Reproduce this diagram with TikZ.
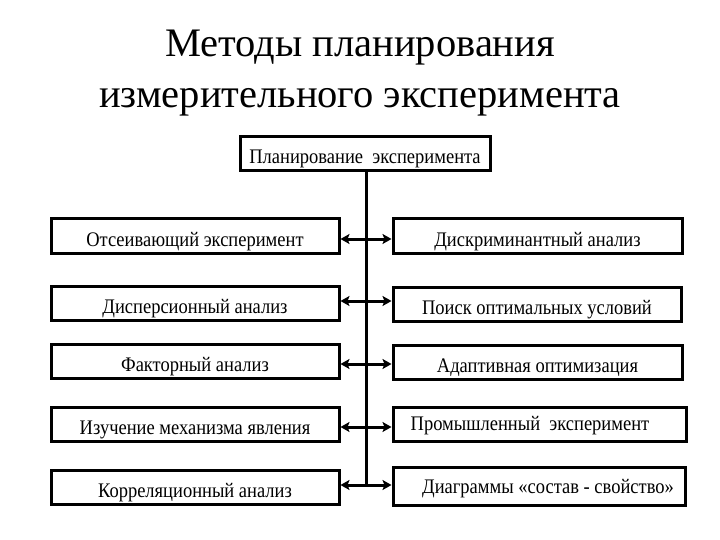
\documentclass[tikz,border=0pt]{standalone}
\usepackage{fontspec}
\setmainfont{Liberation Serif}
\usetikzlibrary{arrows.meta}
\newcommand{\bxt}[1]{\scalebox{1}[1.12]{#1}}
\begin{document}
\begin{tikzpicture}[x=1pt,y=-1pt,
  boxstyle/.style={draw=black, line width=3pt, inner sep=0pt, text height=21pt, text depth=0pt, font=\fontsize{18.5}{20}\selectfont, text=black},
  conn/.style={line width=3pt, {Stealth[length=9pt,width=10pt,inset=2pt]}-{Stealth[length=9pt,width=10pt,inset=2pt]}},
  trunk/.style={line width=3pt}]
\useasboundingbox (0,0) rectangle (720,540);
\node[font=\fontsize{40.5}{51}\selectfont, align=center, text=black] (title) at (360,73) {Методы планирования\\измерительного эксперимента};
\node[boxstyle, minimum width=250pt, minimum height=34pt, text height=20pt] (top) at (365,154) {\bxt{Планирование\ \ эксперимента}};
% left boxes
\node[boxstyle, minimum width=288pt, minimum height=34pt] (L1) at (195,236) {\bxt{Отсеивающий эксперимент}};
\node[boxstyle, minimum width=288pt, minimum height=34pt] (L2) at (195,303) {\bxt{Дисперсионный анализ}};
\node[boxstyle, minimum width=288pt, minimum height=34pt] (L3) at (195,361) {\bxt{Факторный анализ}};
\node[boxstyle, minimum width=288pt, minimum height=34pt] (L4) at (195,424) {\bxt{Изучение механизма явления}};
\node[boxstyle, minimum width=288pt, minimum height=34pt] (L5) at (195,487) {\bxt{Корреляционный анализ}};
% right boxes
\node[boxstyle, minimum width=289pt, minimum height=34pt] (R1) at (537.5,236) {\bxt{Дискриминантный анализ}};
\node[boxstyle, minimum width=288pt, minimum height=34pt] (R2) at (537,304) {\bxt{Поиск оптимальных условий}};
\node[boxstyle, minimum width=289pt, minimum height=34pt] (R3) at (537.5,362) {\bxt{Адаптивная оптимизация}};
\node[boxstyle, minimum width=293pt, minimum height=34pt, text height=12pt] (R4) at (539.5,424) {\hspace*{-19pt}\bxt{Промышленный\ \ эксперимент}};
\node[boxstyle, minimum width=292pt, minimum height=38pt, text height=14pt] (R5) at (539,486) {\hspace*{18pt}\bxt{Диаграммы «состав - свойство»}};
\coordinate (vend) at (366,485);
\draw[trunk] (top.south -| vend) -- (vend);
\draw[conn] ([yshift=-3pt]L1.east) -- ([yshift=-3pt]L1.east -| R1.west);
\draw[conn] ([yshift=2pt]L2.east) -- ([yshift=2pt]L2.east -| R2.west);
\draw[conn] ([yshift=-3pt]L3.east) -- ([yshift=-3pt]L3.east -| R3.west);
\draw[conn] ([yshift=-3pt]L4.east) -- ([yshift=-3pt]L4.east -| R4.west);
\draw[conn] ([yshift=2pt]L5.east) -- ([yshift=2pt]L5.east -| R5.west);
\end{tikzpicture}
\end{document}
